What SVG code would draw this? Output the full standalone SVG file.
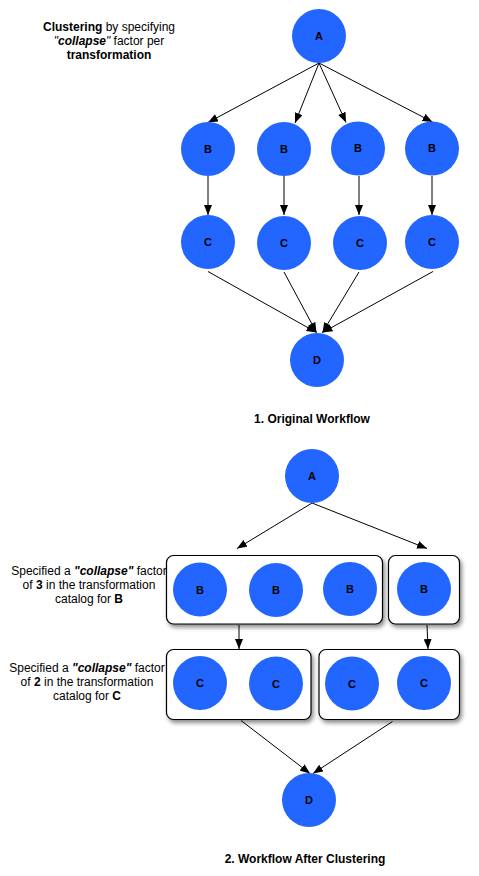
<svg xmlns="http://www.w3.org/2000/svg" width="479" height="876" viewBox="0 0 479 876">
<style>
.n{fill:#2366ff;}
.lb{font-family:"Liberation Sans",Arial,sans-serif;font-size:11px;font-weight:bold;fill:#000;text-anchor:middle;}
.t{font-family:"Liberation Sans",Arial,sans-serif;font-size:12px;fill:#000;text-anchor:middle;}
.b{font-weight:bold;}
.bi{font-weight:bold;font-style:italic;}
.i{font-style:italic;}
.e{stroke:#000;stroke-width:1;fill:none;marker-end:url(#ah);}
.box{fill:#fff;stroke:#000;stroke-width:1.2;filter:url(#sh);}
</style>
<defs>
<marker id="ah" markerUnits="userSpaceOnUse" markerWidth="10" markerHeight="8" refX="10" refY="4" orient="auto">
<path d="M0,0 L10,4 L0,8 z" fill="#000"/>
</marker>
<filter id="sh" x="-10%" y="-10%" width="125%" height="140%">
<feDropShadow dx="2" dy="3" stdDeviation="2" flood-color="#000" flood-opacity="0.45"/>
</filter>
</defs>
<rect width="479" height="876" fill="#fff"/>

<g id="title-top">
<text class="t" x="109" y="31"><tspan class="b">Clustering</tspan> by specifying</text>
<text class="t" x="109" y="45"><tspan class="i">"</tspan><tspan class="bi">collapse</tspan><tspan class="i">"</tspan> factor per</text>
<text class="t" x="109" y="59"><tspan class="b">transformation</tspan></text>
</g>

<g id="connectors">
<line class="e" x1="319" y1="63" x2="208" y2="122.5"/>
<line class="e" x1="319" y1="63" x2="295" y2="123"/>
<line class="e" x1="319" y1="63" x2="346" y2="122.5"/>
<line class="e" x1="319" y1="63" x2="432.5" y2="122"/>
<line class="e" x1="208" y1="176" x2="208" y2="215"/>
<line class="e" x1="284" y1="176" x2="284" y2="215"/>
<line class="e" x1="359" y1="176" x2="359" y2="215"/>
<line class="e" x1="432" y1="176" x2="432" y2="215"/>
<line class="e" x1="208" y1="271.5" x2="316.5" y2="332.5"/>
<line class="e" x1="284" y1="272" x2="316.5" y2="332.5"/>
<line class="e" x1="359" y1="272" x2="322.5" y2="332.5"/>
<line class="e" x1="433" y1="271.5" x2="322.5" y2="332.5"/>
<line class="e" x1="312" y1="503" x2="237" y2="548.5"/>
<line class="e" x1="312" y1="503" x2="427" y2="548.5"/>
<line class="e" x1="239" y1="625" x2="239" y2="649"/>
<line class="e" x1="427" y1="625" x2="428" y2="649"/>
<line class="e" x1="241" y1="720.5" x2="310" y2="773.5"/>
<line class="e" x1="392.5" y1="721.5" x2="313" y2="773.5"/>
</g>

<g id="nA1"><circle class="n" cx="319" cy="36" r="27"/><text class="lb" x="319" y="40">A</text></g>
<g id="nB1"><circle class="n" cx="208" cy="149" r="27"/><text class="lb" x="208" y="153">B</text></g>
<g id="nB2"><circle class="n" cx="284" cy="149" r="27"/><text class="lb" x="284" y="153">B</text></g>
<g id="nB3"><circle class="n" cx="358" cy="148.5" r="27"/><text class="lb" x="358" y="152">B</text></g>
<g id="nB4"><circle class="n" cx="432" cy="148.5" r="27"/><text class="lb" x="432" y="152">B</text></g>
<g id="nC1"><circle class="n" cx="208" cy="242" r="27"/><text class="lb" x="208" y="246">C</text></g>
<g id="nC2"><circle class="n" cx="284" cy="243" r="27"/><text class="lb" x="284" y="247">C</text></g>
<g id="nC3"><circle class="n" cx="360" cy="243" r="27"/><text class="lb" x="360" y="247">C</text></g>
<g id="nC4"><circle class="n" cx="432" cy="242" r="27"/><text class="lb" x="432" y="246">C</text></g>
<g id="nD1"><circle class="n" cx="317" cy="360" r="27"/><text class="lb" x="317" y="364">D</text></g>

<g id="caption1"><text class="t b" x="312" y="423">1. Original Workflow</text></g>

<g id="note-b">
<text class="t" x="89" y="575">Specified a <tspan class="bi">"collapse"</tspan> factor</text>
<text class="t" x="89" y="589">of <tspan class="b">3</tspan> in the transformation</text>
<text class="t" x="89" y="603">catalog for <tspan class="b">B</tspan></text>
</g>
<g id="note-c">
<text class="t" x="87" y="672">Specified a <tspan class="bi">"collapse"</tspan> factor</text>
<text class="t" x="87" y="686">of <tspan class="b">2</tspan> in the transformation</text>
<text class="t" x="87" y="700">catalog for <tspan class="b">C</tspan></text>
</g>

<g id="nA2"><circle class="n" cx="312" cy="476" r="27"/><text class="lb" x="312" y="480">A</text></g>

<g id="clusterB1">
<rect class="box" x="166.5" y="555.5" width="216" height="68.5" rx="7"/>
<circle class="n" cx="200" cy="589.5" r="27"/><text class="lb" x="200" y="594">B</text>
<circle class="n" cx="276" cy="590" r="27"/><text class="lb" x="276" y="594">B</text>
<circle class="n" cx="350" cy="589" r="27"/><text class="lb" x="350" y="593">B</text>
</g>
<g id="clusterB2">
<rect class="box" x="388.5" y="555.5" width="71" height="68.5" rx="7"/>
<circle class="n" cx="424" cy="589" r="27"/><text class="lb" x="424" y="593">B</text>
</g>
<g id="clusterC1">
<rect class="box" x="166.5" y="649.5" width="144.5" height="70" rx="7"/>
<circle class="n" cx="200" cy="683" r="27"/><text class="lb" x="200" y="687">C</text>
<circle class="n" cx="276" cy="683.5" r="27"/><text class="lb" x="276" y="687.5">C</text>
</g>
<g id="clusterC2">
<rect class="box" x="319" y="649.5" width="140.5" height="70" rx="7"/>
<circle class="n" cx="352" cy="683.5" r="27"/><text class="lb" x="352" y="687.5">C</text>
<circle class="n" cx="424" cy="683" r="27"/><text class="lb" x="424" y="687">C</text>
</g>

<g id="nD2"><circle class="n" cx="309" cy="800" r="27"/><text class="lb" x="309" y="804">D</text></g>

<g id="caption2"><text class="t b" x="305" y="863">2. Workflow After Clustering</text></g>
</svg>
